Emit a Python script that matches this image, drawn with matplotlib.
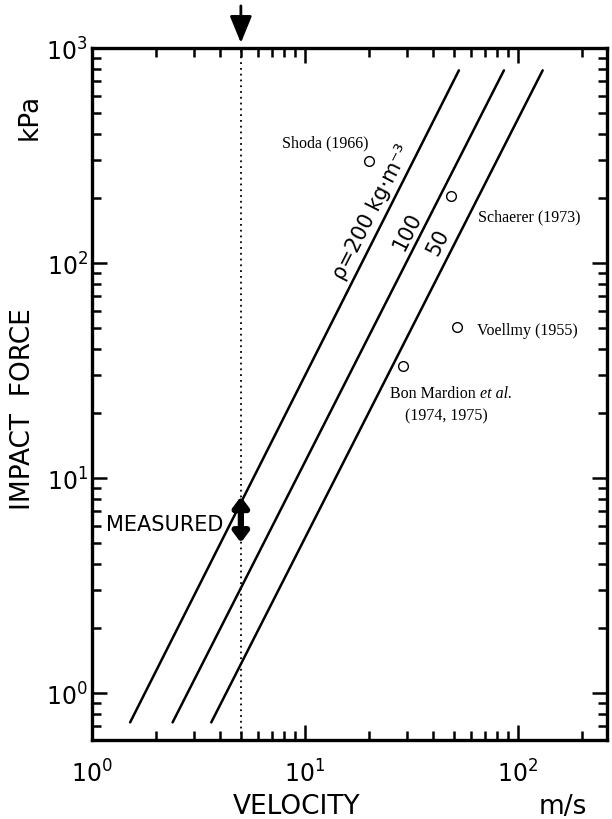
import matplotlib
matplotlib.use("Agg")
import matplotlib.pyplot as plt
from matplotlib.ticker import LogLocator, NullFormatter, FixedLocator

# Impact force lines for three snow densities (kg m^-3)
densities = [200, 100, 50]
density_labels = ["ρ=200 kg·m⁻³", "100", "50"]
v_start = [1.51, 2.39, 3.63]      # m/s
v_end = [52.8, 85.9, 130.6]       # m/s
p_start = 0.73                    # kPa
p_end = 787.0                     # kPa

# Published observations
sources = ["Shoda (1966)", "Schaerer (1973)", "Voellmy (1955)", "Bon Mardion"]
obs_v = [20.0, 48.5, 51.7, 28.8]
obs_p = [298.0, 205.0, 50.4, 33.2]

# Measured range at the reference velocity
measured_v = 5.0
measured_lo = 5.0
measured_hi = 8.2

x_ticks = [1, 10, 100]
x_ticklabels = [r"$10^0$", r"$10^1$", r"$10^2$"]
y_ticks = [1, 10, 100, 1000]
y_ticklabels = [r"$10^0$", r"$10^1$", r"$10^2$", r"$10^3$"]

fig = plt.figure(figsize=(6.12, 8.2), dpi=100)
ax = fig.add_axes([92 / 612, 1 - 741 / 820, (607 - 92) / 612, (741 - 49) / 820])
ax.set_xscale("log")
ax.set_yscale("log")
ax.set_xlim(1, 10 ** 2.418)
ax.set_ylim(10 ** -0.2186, 1000)

for vs, ve in zip(v_start, v_end):
    ax.plot([vs, ve], [p_start, p_end], color="black", lw=1.8, solid_capstyle="round")

ax.axvline(measured_v, color="black", lw=1.3, ls=(0, (1, 2.2)))

ax.plot(obs_v, obs_p, ls="none", marker="o", ms=7, mfc="white", mec="black", mew=1.0)

serif = dict(family="Liberation Serif", fontsize=11.5, color="black")
ax.text(7.80, 350, sources[0], ha="left", va="baseline", **serif)
ax.text(64.9, 158.5, sources[1], ha="left", va="baseline", **serif)
ax.text(64.2, 46.7, sources[2], ha="left", va="baseline", **serif)
t_bm = ax.text(25.1, 23.8, sources[3], ha="left", va="baseline", **serif)
ax.annotate("et al.", xy=(1, 0), xycoords=t_bm, xytext=(3, 0),
            textcoords="offset points", ha="left", va="bottom",
            family="Liberation Serif", fontsize=11.5, style="italic")
ax.text(29.5, 18.8, "(1974, 1975)", ha="left", va="baseline", **serif)

# density labels along the lines
label_pos = [(20.6, 174.5), (30.1, 140.9), (42.1, 125.3)]
for (lx, ly), lab in zip(label_pos, density_labels):
    ax.text(lx, ly, lab, rotation=63, rotation_mode="anchor", ha="center",
            va="center", fontsize=15)

# measured range double arrow
ax.annotate("", xy=(measured_v, measured_lo), xytext=(measured_v, measured_hi),
            arrowprops=dict(arrowstyle="<|-|>,head_length=0.4,head_width=0.3",
                            lw=4.5, color="black", shrinkA=0, shrinkB=0,
                            mutation_scale=15))
ax.text(4.12, 6.1, "MEASURED", ha="right", va="center", fontsize=15)

# marker arrow above the plot
ax.annotate("", xy=(measured_v, 1055), xytext=(measured_v, 1570),
            annotation_clip=False,
            arrowprops=dict(arrowstyle="-|>,head_length=1.1,head_width=0.45",
                            lw=2, color="black", shrinkA=0, shrinkB=0,
                            mutation_scale=15))

ax.xaxis.set_major_locator(FixedLocator(x_ticks))
ax.yaxis.set_major_locator(FixedLocator(y_ticks))
ax.set_xticklabels(x_ticklabels)
ax.set_yticklabels(y_ticklabels)
ax.xaxis.set_minor_locator(LogLocator(base=10, subs=range(2, 10), numticks=20))
ax.yaxis.set_minor_locator(LogLocator(base=10, subs=range(2, 10), numticks=20))
ax.xaxis.set_minor_formatter(NullFormatter())
ax.yaxis.set_minor_formatter(NullFormatter())

ax.tick_params(which="both", direction="in", top=True, right=True, width=1.8,
               labelsize=17, color="black")
ax.tick_params(which="major", length=11)
ax.tick_params(which="minor", length=6.5)
ax.tick_params(axis="x", which="major", pad=14)
ax.tick_params(axis="y", which="major", pad=3)
for sp in ax.spines.values():
    sp.set_linewidth(2.4)

fig.text(297 / 612, 1 - 807 / 820, "VELOCITY", ha="center", va="center", fontsize=19)
fig.text(563 / 612, 1 - 807 / 820, "m/s", ha="center", va="center", fontsize=19)
fig.text(23 / 612, 1 - 409 / 820, "IMPACT  FORCE", ha="center", va="center",
         rotation=90, fontsize=19)
fig.text(30 / 612, 1 - 117 / 820, "kPa", ha="center", va="center",
         rotation=90, fontsize=19)

fig.savefig("out.png", dpi=100)
